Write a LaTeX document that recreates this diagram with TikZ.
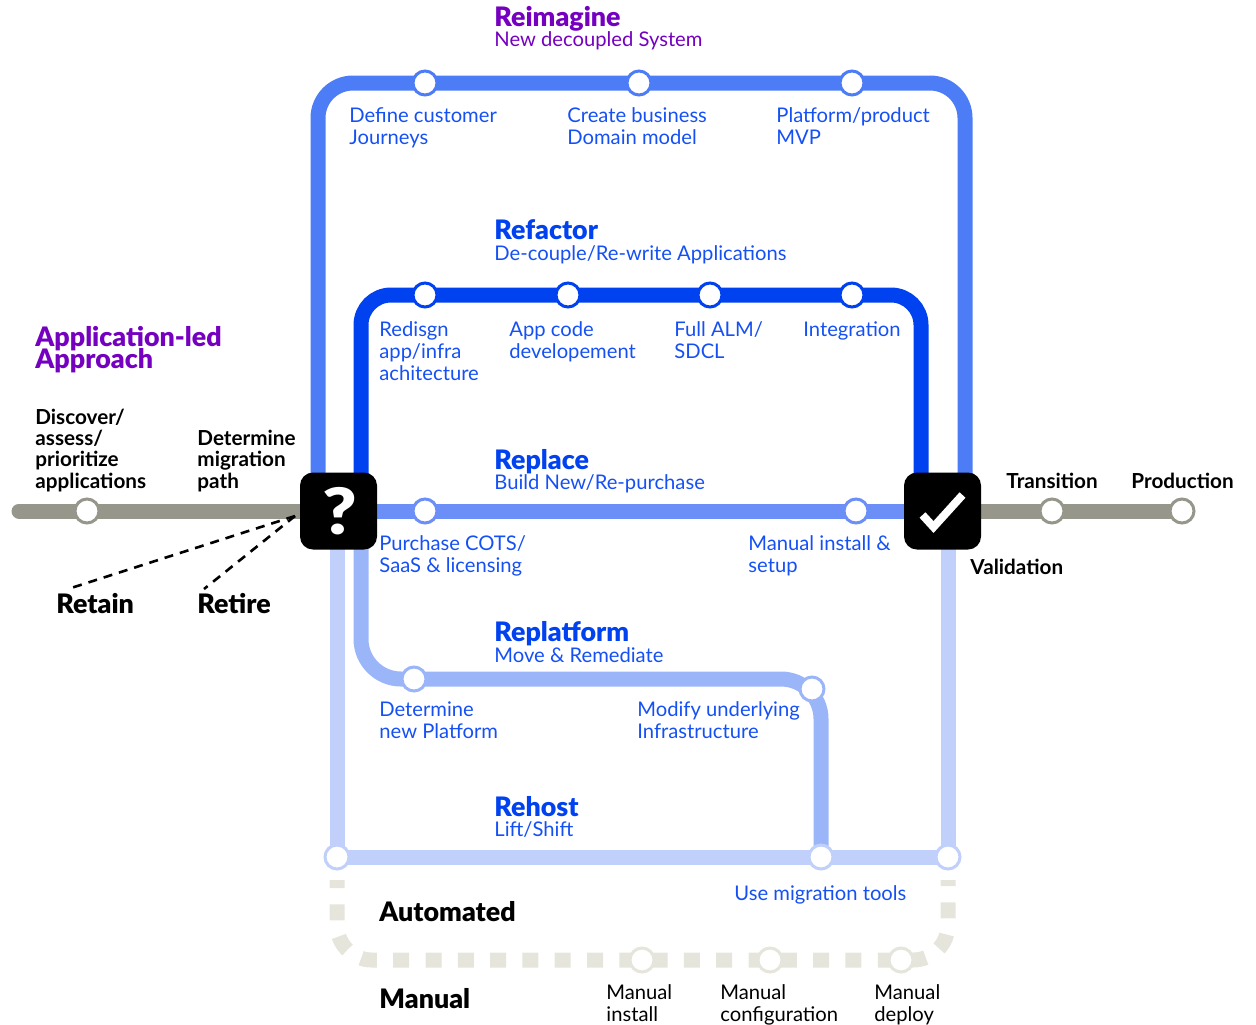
\documentclass[tikz,border=0pt]{standalone}
\usepackage{fontspec}
\usepackage{graphicx}
\setmainfont{Lato}
\newfontfamily\heavyfont{Lato Black}
\newcommand\tightlines{\lineskiplimit -20pt\relax}
\usetikzlibrary{backgrounds}
\definecolor{reimaginec}{HTML}{4D7CF7}
\definecolor{refactorc}{HTML}{0041F0}
\definecolor{replacec}{HTML}{6B8FF7}
\definecolor{replatformc}{HTML}{9AB5F8}
\definecolor{rehostc}{HTML}{C0D0FB}
\definecolor{manualc}{HTML}{E5E5DC}
\definecolor{greyc}{HTML}{96968A}
\definecolor{purplec}{HTML}{7500C0}
\definecolor{textc}{HTML}{1550F5}
\tikzset{
  station/.style={circle, draw=#1, fill=white, line width=1.5pt, minimum size=12pt, inner sep=0pt},
  hub/.style={fill=black, rounded corners=6.5pt, minimum size=38.5pt, inner sep=0pt},
  track/.style={draw=#1, line width=7.5pt},
  txt/.style={anchor=base west, inner sep=0pt, align=left, font=\fontsize{10.1}{10.8}\selectfont},
  bluetxt/.style={txt, text=textc},
  blacktxt/.style={txt, text=black, font=\fontsize{10.35}{10.6}\selectfont\bfseries},
  plaintxt/.style={txt, text=black},
  heading/.style={txt, text=refactorc, font=\fontsize{13.4}{10.8}\selectfont\heavyfont\tightlines},
  cutline/.style={dash pattern=on 4.5pt off 3.5pt, line width=1.3pt},
}
\begin{document}
\begin{tikzpicture}[x=0.5pt, y=-0.5pt]
  \useasboundingbox (0,0) rectangle (1256,1024);
  % hubs
  \node[hub] (qbox) at (338.5,511) {\fontsize{32}{32}\selectfont\heavyfont\textcolor{white}{\hspace{1pt}\scalebox{1.15}[1]{?}}};
  \node[hub] (chk) at (942.5,511) {};
  \draw[white, line width=4pt] ([shift={(-20,4)}]chk.center) -- ([shift={(-9,16)}]chk.center) -- ([shift={(20,-16)}]chk.center);
  % stations
  \begin{scope}[every node/.style={station=greyc}]
    \node (di) at (87,511) {};
    \node (tr) at (1052,511) {};
    \node (pr) at (1182,511) {};
  \end{scope}
  \begin{scope}[every node/.style={station=reimaginec}]
    \node (im1) at (425,83) {};
    \node (im2) at (639,83) {};
    \node (im3) at (852,83) {};
  \end{scope}
  \begin{scope}[every node/.style={station=refactorc}]
    \node (rf1) at (425,295) {};
    \node (rf2) at (568,295) {};
    \node (rf3) at (710,295) {};
    \node (rf4) at (852,295) {};
  \end{scope}
  \begin{scope}[every node/.style={station=replacec}]
    \node (rc1) at (425,511) {};
    \node (rc2) at (856,511) {};
  \end{scope}
  \begin{scope}[every node/.style={station=replatformc}]
    \node (rp1) at (414,679) {};
    \node (rp2) at (812,689) {};
  \end{scope}
  \begin{scope}[every node/.style={station=rehostc}]
    \node (rh1) at (337,857) {};
    \node (rh2) at (821,857) {};
    \node (rh3) at (948,857) {};
  \end{scope}
  \begin{scope}[every node/.style={station=manualc}]
    \node (ma1) at (642,960) {};
    \node (ma2) at (770,960) {};
    \node (ma3) at (901,960) {};
  \end{scope}
  % free ends
  \coordinate (gstart) at (19,511);
  \coordinate (imin) at (318,511);
  \coordinate (imout) at (965,511);
  \coordinate (rfin) at (361,511);
  \coordinate (rfout) at (921,511);
  \coordinate (mastart) at (337,880);
  \coordinate (maend) at (948,880);
  \coordinate (retain) at (68,589);
  \coordinate (retire) at (204,589);
  \coordinate (qleft) at (295,516);
  % tracks
  \begin{scope}[on background layer]
    \draw[track=manualc, rounded corners=17.5pt, dash pattern=on 8pt off 8.15pt, dash phase=4pt]
      (mastart) |- (ma1.center) -| (maend);
    \draw[track=rehostc] (rh1.center) -- (rh1 |- qbox);
    \draw[track=rehostc] (rh1.center) -- (rh3.center) -- (rh3 |- chk);
    \draw[track=replatformc, rounded corners=20pt] (rfin) |- (rh2 |- rp1) [rounded corners=15pt] -- (rh2.center);
    \draw[track=reimaginec, rounded corners=17.5pt] (imin) |- (im2.center) -| (imout);
    \draw[track=refactorc, rounded corners=15pt] (rfin) |- (rf2.center) -| (rfout);
    \draw[track=replacec] (qbox.center) -- (rc1.center) -- (rc2.center) -- (chk.center);
    \draw[track=greyc, line cap=round] (gstart) -- (qbox.center);
    \draw[track=greyc] (chk.center) -- (tr.center) -- (pr.center);
  \end{scope}
  \draw[cutline] (qleft) -- (retain);
  \draw[cutline] (qleft) -- (retire);
  % reimagine
  \node[heading, text=purplec] (h1) at (494,26) {Reimagine};
  \node[txt, text=purplec] (s1) at (494,46) {New decoupled System};
  \node[bluetxt] (t1) at (349,144) {Define customer\\Journeys};
  \node[bluetxt] (t2) at (567,144) {Create business\\Domain model};
  \node[bluetxt] (t3) at (776,144) {Platform/product\\MVP};
  % refactor
  \node[heading] (h2) at (494,239) {Refactor};
  \node[bluetxt] (s2) at (494,260) {De-couple/Re-write Applications};
  \node[bluetxt] (t4) at (379,380) {Redisgn\\app/infra\\achitecture};
  \node[bluetxt] (t5) at (509,358) {App code\\developement};
  \node[bluetxt] (t6) at (674,358) {Full ALM/\\SDCL};
  \node[bluetxt] (t7) at (803,336) {Integration};
  % replace
  \node[heading] (h3) at (494,469) {Replace};
  \node[bluetxt] (s3) at (494,489) {Build New/Re-purchase};
  \node[bluetxt] (t8) at (379,572) {Purchase COTS/\\SaaS \& licensing};
  \node[bluetxt] (t9) at (748,572) {Manual install \&\\setup};
  % replatform
  \node[heading] (h4) at (494,641) {Replatform};
  \node[bluetxt] (s4) at (494,662) {Move \& Remediate};
  \node[bluetxt] (t10) at (379,738) {Determine\\new Platform};
  \node[bluetxt] (t11) at (637,738) {Modify underlying\\Infrastructure};
  % rehost
  \node[heading] (h5) at (494,816) {Rehost};
  \node[bluetxt] (s5) at (494,836) {Lift/Shift};
  \node[bluetxt] (t12) at (734,900) {Use migration tools};
  % manual
  \node[heading, text=black] (h6) at (379,921) {Automated};
  \node[heading, text=black] (h7) at (379,1008) {Manual};
  \node[plaintxt] (t13) at (606,1021) {Manual\\install};
  \node[plaintxt] (t14) at (720,1021) {Manual\\configuration};
  \node[plaintxt] (t15) at (874,1021) {Manual\\deploy};
  % left and right
  \node[heading, text=purplec] (h8) at (35,368) {Application-led\\Approach};
  \node[blacktxt] (b1) at (35,488) {Discover/\\assess/\\prioritize\\applications};
  \node[blacktxt] (b2) at (197,488) {Determine\\migration\\path};
  \node[blacktxt] (b3) at (1006,488) {Transition};
  \node[blacktxt] (b4) at (1131,488) {Production};
  \node[blacktxt] (b5) at (970,574) {Validation};
  \node[heading, text=black] (b6) at (56,613) {Retain};
  \node[heading, text=black] (b7) at (197,613) {Retire};
\end{tikzpicture}
\end{document}
